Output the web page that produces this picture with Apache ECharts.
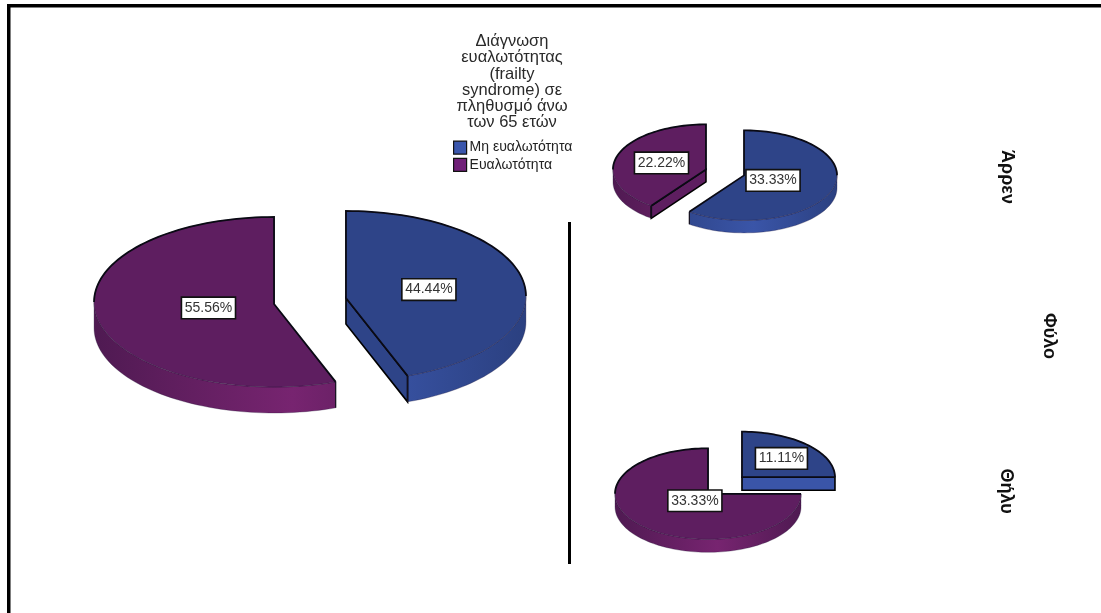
<!DOCTYPE html>
<html>
<head>
<meta charset="utf-8">
<title>Διάγνωση ευαλωτότητας</title>
<script src="https://cdn.jsdelivr.net/npm/echarts@6/dist/echarts.min.js"></script>
<style>
  html, body { margin: 0; padding: 0; background: #fff; }
  #chart { width: 1101px; height: 613px; }
</style>
</head>
<body>
<div id="chart"></div>
<script>
// Shares per group: whole sample, men, women (percent of the whole sample)
const categories = ['Μη ευαλωτότητα', 'Ευαλωτότητα'];
const notFrail = [44.44, 33.33, 11.11];
const frail = [55.56, 22.22, 33.33];
const rowLabels = ['Άρρεν', 'Θήλυ'];
const rowAxisTitle = 'Φύλο';
const legendTitle = ['Διάγνωση', 'ευαλωτότητας', '(frailty', 'syndrome) σε', 'πληθυσμό άνω', 'των 65 ετών'];

// Pie placement for each group
const pies = [
  { cx: 310, cy: 299, rx: 180, ry: 85, depth: 26, explode: 36.5, apexDy: 2, labelAt: [0.468, 0.37] },
  { cx: 725, cy: 172.4, rx: 93, ry: 45, depth: 12.5, explode: 20, apexDy: 0, labelAt: [0.328, 0.503] },
  { cx: 725, cy: 485.5, rx: 93, ry: 45.5, depth: 13, explode: 24, apexDy: 0, labelAt: [0.6, 0.2] }
];

// Slice colours: clockwise blue, counter-clockwise purple
const palette = [
  { top: '#2e4488', dark: '#2b4080', light: '#3a55a8', swatch: '#3a56ac', dir: 1 },
  { top: '#5e1e60', dark: '#4f1a52', light: '#772470', swatch: '#702078', dir: -1 }
];

const FONT = '"Liberation Sans", Arial, sans-serif';
const rad = d => d * Math.PI / 180;

function renderSlice(params, api) {
  const idx = api.value(0);
  const value = api.value(1);
  const sid = params.seriesIndex;
  const pie = pies[idx];
  const total = notFrail[idx] + frail[idx];
  const col = palette[sid];
  const dir = col.dir;
  const sweep = 360 * value / total;
  const bis = rad(dir * sweep / 2);

  // Exploded centre moves along the slice bisector, flattened like the ellipse
  const cx = pie.cx + pie.explode * Math.sin(bis);
  const cy = pie.cy - pie.explode * Math.cos(bis) * pie.ry / pie.rx;
  const { rx, ry, depth } = pie;
  const at = (t, dy) => {
    const a = rad(dir * t);
    return [cx + rx * Math.sin(a), cy - ry * Math.cos(a) + (dy || 0)];
  };
  const arc = (from, to, dy) => {
    const pts = [];
    const n = Math.max(2, Math.ceil(Math.abs(to - from) / 2));
    for (let i = 0; i <= n; i++) pts.push(at(from + (to - from) * i / n, dy));
    return pts;
  };
  const apex = [cx, cy + pie.apexDy];
  const children = [];

  // Curved front wall of the slab
  const wallFrom = Math.max(90, 0);
  const wallTo = Math.min(sweep, 270);
  if (wallTo > wallFrom) {
    const upper = arc(wallFrom, wallTo, 0);
    const lower = arc(wallFrom, wallTo, depth).reverse();
    children.push({
      type: 'polygon',
      shape: { points: upper.concat(lower) },
      style: {
        fill: new echarts.graphic.LinearGradient(cx - rx, 0, cx + rx, 0, [
          { offset: 0, color: col.dark },
          { offset: 0.55, color: col.light },
          { offset: 1, color: col.dark }
        ], true),
        stroke: 'rgba(30,20,50,0.35)',
        lineWidth: 0.8
      }
    });
  }

  // Cut face, shown only when it turns towards the viewer
  const end = at(sweep, 0);
  const faceNormalY = Math.sin(rad(sweep));
  if (faceNormalY > 0) {
    children.push({
      type: 'polygon',
      shape: { points: [apex, end, at(sweep, depth), [apex[0], apex[1] + depth]] },
      style: { fill: faceNormalY > 0.9 ? col.light : col.top, stroke: '#000', lineWidth: 1.6 }
    });
  }

  // Top surface
  children.push({
    type: 'polygon',
    shape: { points: [apex].concat(arc(0, sweep, 0)) },
    style: { fill: col.top, stroke: 'rgba(30,20,50,0.45)', lineWidth: 0.8 }
  });

  // Heavy edge along the back rim and the straight cuts
  const rimEnd = Math.min(sweep, 90);
  const edge = [end, apex].concat(arc(0, rimEnd, 0));
  children.push({
    type: 'polyline',
    shape: { points: edge },
    style: { fill: null, stroke: '#0a0a14', lineWidth: 1.8 }
  });
  if (wallTo > wallFrom && sweep < 270) {
    children.push({
      type: 'line',
      shape: { x1: end[0], y1: end[1], x2: end[0], y2: end[1] + depth },
      style: { stroke: '#14101e', lineWidth: 1.2 }
    });
  }

  // Percentage tag sitting on the bisector
  const f = pie.labelAt[sid];
  children.push({
    type: 'text',
    z2: 100,
    x: cx + rx * f * Math.sin(bis),
    y: cy - ry * f * Math.cos(bis) + 0.5,
    style: {
      text: value.toFixed(2) + '%',
      font: '14px ' + FONT,
      fill: '#333',
      align: 'center',
      verticalAlign: 'middle',
      backgroundColor: '#fff',
      borderColor: '#111',
      borderWidth: 1.6,
      padding: [3, 2.5, 3, 2.5]
    }
  });

  return { type: 'group', children };
}

const makeSeries = (i, values) => ({
  type: 'custom',
  name: categories[i],
  coordinateSystem: 'none',
  renderItem: renderSlice,
  itemStyle: { color: palette[i].swatch },
  data: values.map((v, k) => [k, v])
});

const sideText = (text, x, y, size) => ({
  type: 'text',
  x, y,
  rotation: -Math.PI / 2,
  style: {
    text,
    font: 'bold ' + size + 'px ' + FONT,
    fill: '#111',
    align: 'center',
    verticalAlign: 'middle'
  }
});

const chart = echarts.init(document.getElementById('chart'), null, { renderer: 'canvas' });
chart.setOption({
  animation: false,
  backgroundColor: '#fff',
  title: {
    text: legendTitle.join('\n'),
    left: 512,
    top: 33.5,
    padding: 0,
    textAlign: 'center',
    textStyle: { fontFamily: FONT, fontSize: 16.5, fontWeight: 'normal', color: '#2a2a2a', lineHeight: 16.2 }
  },
  legend: {
    orient: 'vertical',
    left: 453,
    top: 140.5,
    itemWidth: 13,
    itemHeight: 13,
    itemGap: 3,
    icon: 'rect',
    selectedMode: false,
    padding: 0,
    textStyle: { fontFamily: FONT, fontSize: 14, color: '#222', padding: [0, 0, 0, -2] },
    itemStyle: { borderColor: '#111', borderWidth: 1.2 },
    data: categories
  },
  series: [makeSeries(0, notFrail), makeSeries(1, frail)],
  graphic: [
    { type: 'rect', shape: { x: 7, y: 4, width: 1094, height: 3.5 }, style: { fill: '#000' } },
    { type: 'rect', shape: { x: 7, y: 4, width: 3.5, height: 609 }, style: { fill: '#000' } },
    { type: 'rect', shape: { x: 568, y: 222, width: 3, height: 342 }, style: { fill: '#000' } },
    sideText(rowLabels[0], 1007, 177, 18),
    sideText(rowLabels[1], 1006, 491, 18),
    sideText(rowAxisTitle, 1049, 336, 18)
  ]
});
</script>
</body>
</html>
